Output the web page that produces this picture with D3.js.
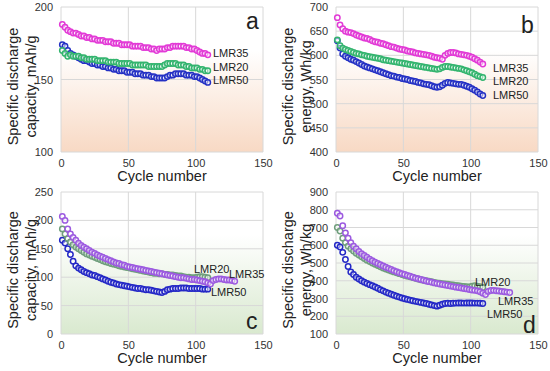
<!DOCTYPE html>
<html>
<head>
<meta charset="utf-8">
<script src="https://cdn.jsdelivr.net/npm/d3@7"></script>
<style>
  body { margin: 0; background: #fff; }
  svg text { font-family: "Liberation Sans", Arial, sans-serif; fill: #222; }
</style>
</head>
<body>
<svg id="chart" width="550" height="371"></svg>
<script>
// cycle number of point i is 1 + 2 * i (every second cycle)
const xTicks = [0, 50, 100, 150];

// panel a: specific discharge capacity, mAh/g
const capA35 = [188,186,184,183,182,182,181,180,180,179,179,178,178,177,177,177,176,176,176,175,175,175,174,174,174,174,173,173,173,173,172,172,172,171,171,170,171,171,171,172,172,173,173,173,173,173,172,172,171,171,170,169,168,168,167];
const capA20 = [170,168,166,167,166,166,166,165,165,164,164,164,164,163,163,163,163,162,162,162,162,161,161,161,161,161,160,160,160,160,160,160,159,159,159,159,159,159,160,161,161,161,161,160,160,160,159,159,158,158,158,157,157,156,156];
const capA50 = [174,173,170,168,167,166,165,164,163,163,162,161,161,160,160,159,159,158,158,157,157,156,156,156,155,155,155,154,154,154,153,153,153,152,152,151,151,151,151,152,153,153,154,154,154,154,153,153,153,152,152,151,150,149,148];
const ticksA = [100, 150, 200];

// panel b: specific discharge energy, Wh/kg
const enB35 = [678,663,655,650,648,647,645,642,640,638,636,635,633,630,628,627,625,624,622,620,618,617,615,613,612,611,609,608,607,605,604,603,602,601,600,598,596,595,594,592,600,604,606,606,605,603,602,601,600,598,596,593,590,586,582];
const enB20 = [632,620,615,612,610,608,606,604,603,601,600,598,597,596,595,594,593,591,590,589,588,587,586,585,584,583,582,581,580,579,578,577,576,575,574,573,572,571,572,575,577,577,576,575,574,573,572,570,568,566,564,561,558,556,554];
const enB50 = [630,615,603,598,595,592,590,587,584,581,578,576,574,572,570,568,566,564,562,560,558,557,555,554,552,551,550,548,547,546,544,543,541,540,539,537,535,534,535,538,542,544,543,542,541,540,540,538,536,534,531,528,524,520,517];
const ticksB = [400, 450, 500, 550, 600, 650, 700];

// panel c: specific discharge capacity, mAh/g
const capC35 = [207,200,185,176,170,165,160,156,153,150,147,144,142,139,137,135,133,131,129,127,125,124,122,121,119,118,117,116,115,114,113,112,111,110,109,108,107,106,105,104,103,102,101,100,99,99,98,97,96,96,95,94,93,92,90,88,94,96,97,97,96,95,95,94,93];
const capC20 = [185,176,168,162,157,153,150,147,144,141,139,137,135,133,131,129,127,126,124,123,122,120,119,118,117,116,115,114,113,112,111,110,109,108,107,107,106,106,105,105,104,104,103,102,102,101,100,100,99,99,100,101,101,100,99];
const capC50 = [165,160,150,140,128,120,116,113,110,108,106,104,103,101,99,97,95,93,91,90,88,87,86,85,84,83,82,81,80,80,79,78,78,77,76,75,74,73,75,78,79,80,80,80,81,81,81,80,80,80,80,80,79,79,79];
const ticksC = [0, 50, 100, 150, 200, 250];

// panel d: specific discharge energy, Wh/kg
const enD35 = [780,765,710,670,640,615,595,580,565,553,542,532,522,513,505,497,490,483,476,470,463,457,451,445,440,435,430,425,420,415,411,407,403,399,395,392,388,385,382,379,376,373,370,367,364,362,359,356,354,351,348,346,343,338,330,322,340,345,346,344,342,340,338,336,334];
const enD20 = [700,680,640,615,595,580,567,555,545,535,525,516,508,500,493,486,479,472,466,460,455,450,445,440,435,430,426,422,418,414,410,406,403,400,397,394,391,388,386,384,382,380,378,376,374,372,370,368,366,365,370,372,370,366,362];
const enD50 = [600,590,560,520,480,450,435,420,410,400,392,385,378,372,365,358,350,343,336,330,324,318,313,308,303,299,295,291,287,284,281,278,275,272,268,264,260,257,262,268,272,273,272,273,274,275,275,274,275,275,275,274,274,273,272];
const ticksD = [100, 200, 300, 400, 500, 600, 700, 800, 900];

const svg = d3.select("#chart");
const defs = svg.append("defs");

function gradient(id, bottom) {
    const g = defs.append("linearGradient").attr("id", id)
        .attr("x1", 0).attr("y1", 0).attr("x2", 0).attr("y2", 1);
    g.append("stop").attr("offset", "0%").attr("stop-color", "#ffffff");
    g.append("stop").attr("offset", "30%").attr("stop-color", "#ffffff");
    g.append("stop").attr("offset", "100%").attr("stop-color", bottom);
}
gradient("bgPeach", "#f8d9c4");
gradient("bgGreen", "#d9e9cf");

const colsTop = { LMR35: "#e23ad6", LMR20: "#33b46e", LMR50: "#2430c4" };
const colsBot = { LMR35: "#9c5ae0", LMR20: "#6f9e7c", LMR50: "#2428c6" };

const panels = [
    {
        box: { left: 61, right: 263, top: 7, bottom: 152 }, domain: [100, 200], ticks: ticksA,
        bg: "bgPeach", title2: "capacity, mAh/g", letter: "a", letterPos: [246, 29],
        series: [
            { name: "LMR50", values: capA50, color: colsTop.LMR50, label: [213, 84] },
            { name: "LMR20", values: capA20, color: colsTop.LMR20, label: [213, 71] },
            { name: "LMR35", values: capA35, color: colsTop.LMR35, label: [213, 57] }
        ]
    },
    {
        box: { left: 336, right: 538, top: 7, bottom: 152 }, domain: [400, 700], ticks: ticksB,
        bg: "bgPeach", title2: "energy, Wh/kg", letter: "b", letterPos: [521, 33],
        series: [
            { name: "LMR50", values: enB50, color: colsTop.LMR50, label: [493, 99] },
            { name: "LMR20", values: enB20, color: colsTop.LMR20, label: [493, 85] },
            { name: "LMR35", values: enB35, color: colsTop.LMR35, label: [493, 72] }
        ]
    },
    {
        box: { left: 61, right: 263, top: 192, bottom: 334 }, domain: [0, 250], ticks: ticksC,
        bg: "bgGreen", title2: "capacity, mAh/g", letter: "c", letterPos: [246, 329],
        series: [
            { name: "LMR50", values: capC50, color: colsBot.LMR50, label: [211, 296] },
            { name: "LMR20", values: capC20, color: colsBot.LMR20, label: [194, 273] },
            { name: "LMR35", values: capC35, color: colsBot.LMR35, label: [229, 278] }
        ]
    },
    {
        box: { left: 336, right: 538, top: 192, bottom: 334 }, domain: [100, 900], ticks: ticksD,
        bg: "bgGreen", title2: "energy, Wh/kg", letter: "d", letterPos: [523, 333],
        series: [
            { name: "LMR50", values: enD50, color: colsBot.LMR50, label: [487, 318] },
            { name: "LMR20", values: enD20, color: colsBot.LMR20, label: [475, 286] },
            { name: "LMR35", values: enD35, color: colsBot.LMR35, label: [498, 305] }
        ]
    }
];

panels.forEach(p => {
    const b = p.box;
    const x = d3.scaleLinear().domain([0, 150]).range([b.left, b.right]);
    const y = d3.scaleLinear().domain(p.domain).range([b.bottom, b.top]);
    const g = svg.append("g");

    g.append("rect")
        .attr("x", b.left).attr("y", b.top)
        .attr("width", b.right - b.left).attr("height", b.bottom - b.top)
        .attr("fill", `url(#${p.bg})`);

    // grid
    g.selectAll(".hgrid").data(p.ticks).join("line")
        .attr("x1", b.left).attr("x2", b.right)
        .attr("y1", d => y(d)).attr("y2", d => y(d))
        .attr("stroke", "#d8d8d8").attr("stroke-width", 1);
    g.selectAll(".vgrid").data(xTicks).join("line")
        .attr("x1", d => x(d)).attr("x2", d => x(d))
        .attr("y1", b.top).attr("y2", b.bottom)
        .attr("stroke", "#d8d8d8").attr("stroke-width", 1);

    // axes labels only
    const xAxis = g.append("g").attr("transform", `translate(0,${b.bottom})`)
        .call(d3.axisBottom(x).tickValues(xTicks).tickSize(0).tickPadding(7));
    const yAxis = g.append("g").attr("transform", `translate(${b.left},0)`)
        .call(d3.axisLeft(y).tickValues(p.ticks).tickSize(0).tickPadding(8));
    [xAxis, yAxis].forEach(a => {
        a.select(".domain").remove();
        a.selectAll("text").attr("font-size", 11).style("fill", "#333")
            .style("font-family", "'Liberation Sans', Arial, sans-serif");
    });

    // markers
    p.series.forEach(s => {
        g.append("g").selectAll("circle").data(s.values).join("circle")
            .attr("cx", (d, i) => x(1 + 2 * i))
            .attr("cy", d => y(d))
            .attr("r", 2.7)
            .attr("fill", "#ffffff").attr("fill-opacity", 0.5)
            .attr("stroke", s.color).attr("stroke-width", 1.5);
    });

    p.series.forEach(s => {
        g.append("text").attr("x", s.label[0]).attr("y", s.label[1])
            .attr("font-size", 11).text(s.name);
    });

    g.append("text").attr("x", p.letterPos[0]).attr("y", p.letterPos[1])
        .attr("font-size", 23).text(p.letter);

    const cx = (b.left + b.right) / 2;
    g.append("text").attr("x", cx).attr("y", b.bottom + 29)
        .attr("text-anchor", "middle").attr("font-size", 14.5).text("Cycle number");

    const cy = (b.top + b.bottom) / 2 + 7;
    g.append("text")
        .attr("transform", `translate(${b.left - 43},${cy}) rotate(-90)`)
        .attr("text-anchor", "middle").attr("font-size", 14.5).text("Specific discharge");
    g.append("text")
        .attr("transform", `translate(${b.left - 25},${cy}) rotate(-90)`)
        .attr("text-anchor", "middle").attr("font-size", 14.5).text(p.title2);
});
</script>
</body>
</html>
